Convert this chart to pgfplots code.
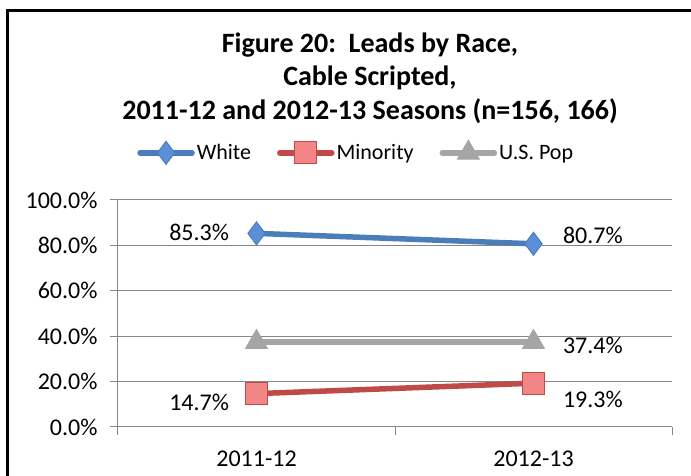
\documentclass[border=0pt]{standalone}
\usepackage{pgfplots}
\pgfplotsset{compat=1.18}
\usepackage{fontspec}
\setmainfont{Carlito}
\definecolor{whiteln}{HTML}{4A7EBB}
\definecolor{whitefill}{HTML}{5B90D8}
\definecolor{minln}{HTML}{BE4B48}
\definecolor{minfill}{HTML}{F28686}
\definecolor{popln}{HTML}{A5A5A5}
\definecolor{gridc}{HTML}{878787}

\begin{document}
\begin{tikzpicture}[x=1pt,y=1pt]
\useasboundingbox (0pt,0pt) rectangle (691pt,476pt);
\clip (0pt,0pt) rectangle (691pt,476pt);
\draw[line width=3pt] (7pt,465pt) rectangle (730pt,-30pt);
\node[font=\fontsize{28}{33.5}\selectfont\bfseries, align=center] at (370pt,398pt)
  {Figure 20:\ \ Leads by Race,\\Cable Scripted,\\2011-12 and 2012-13 Seasons (n=156, 166)};
\begin{axis}[
  at={(118pt,49pt)}, anchor=south west,
  scale only axis, width=554pt, height=227pt,
  xmin=-0.5, xmax=1.5, ymin=0, ymax=100,
  axis lines*=left,
  axis line style={gridc, line width=1pt},
  ymajorgrids, grid style={gridc, line width=1pt},
  tick align=outside, major tick length=8pt,
  tick style={gridc, line width=1pt},
  ytick={0,20,40,60,80,100},
  yticklabel={\pgfmathprintnumber[fixed,fixed zerofill,precision=1]{\tick}\%},
  /pgf/number format/assume math mode=true,
  ticklabel style={font=\fontsize{24}{27}\selectfont},
  xtick={-0.5,0.5,1.5}, xticklabels={},
  extra x ticks={0,1}, extra x tick labels={2011-12,2012-13},
  extra x tick style={major tick length=0pt, xticklabel style={yshift=-20pt}},
  yticklabel style={xshift=-9pt},
  legend columns=3,
  legend style={at={(axis description cs:0.43,1.21)}, anchor=center, draw=none,
    font=\fontsize{22}{24}\selectfont, column sep=0pt,
    /tikz/every even column/.append style={column sep=24pt}},
  legend image code/.code={
    \draw[#1, line cap=round, mark repeat=2, mark phase=2] plot coordinates {(0pt,0pt) (26pt,0pt) (52pt,0pt)};},
]
\addplot[whiteln, line width=5.5pt, mark=diamond*, mark size=11.5pt,
  mark options={fill=whitefill, draw=whiteln, line width=1pt}]
  coordinates {(0,85.3) (1,80.7)};
\addlegendentry{White}
\addplot[minln, line width=5.5pt, mark=square*, mark size=11pt,
  mark options={fill=minfill, draw=minln, line width=1pt}]
  coordinates {(0,14.7) (1,19.3)};
\addlegendentry{Minority}
\addplot[popln, line width=5.5pt, mark=triangle*, mark size=12.5pt,
  mark options={fill=popln, draw=popln, line width=1pt}]
  coordinates {(0,37.4) (1,37.4)};
\addlegendentry{U.S. Pop}
\begin{scope}[every node/.style={font=\fontsize{24}{27}\selectfont}]
\node[anchor=east] at ([xshift=-24pt,yshift=1pt]axis cs:0,85.3) {85.3\%};
\node[anchor=west] at ([xshift=26pt,yshift=8pt]axis cs:1,80.7) {80.7\%};
\node[anchor=west] at ([xshift=26pt,yshift=-3pt]axis cs:1,37.4) {37.4\%};
\node[anchor=west] at ([xshift=26pt,yshift=-16pt]axis cs:1,19.3) {19.3\%};
\node[anchor=east] at ([xshift=-24pt,yshift=-9pt]axis cs:0,14.7) {14.7\%};
\end{scope}
\end{axis}
\end{tikzpicture}
\end{document}
